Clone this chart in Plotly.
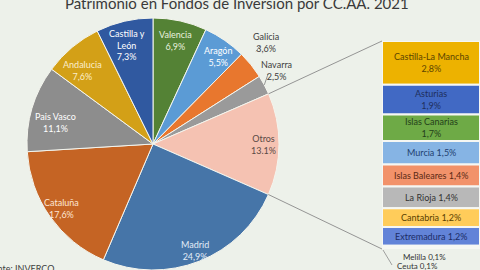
import math
import plotly.graph_objects as go

# ---------------- data ----------------
pie_labels = ["Valencia", "Aragón", "Galicia", "Navarra", "Otros", "Madrid",
              "Cataluña", "País Vasco", "Andalucía", "Castilla y León"]
pie_values = [6.9, 5.5, 3.6, 2.5, 13.1, 24.9, 17.6, 11.1, 7.6, 7.3]
pie_text = ["Valencia<br>6,9%", "Aragón<br>5,5%", "Galicia<br>3,6%", "Navarra<br>2,5%",
            "Otros<br>13.1%", "Madrid<br>24,9%", "Cataluña<br>17,6%", "Pais Vasco<br>11,1%",
            "Andalucia<br>7,6%", "Castilla y<br>León<br>7,3%"]

bar_labels = ["Castilla-La Mancha", "Asturias", "Islas Canarias", "Murcia", "Islas Baleares",
              "La Rioja", "Cantabria", "Extremadura", "Melilla", "Ceuta"]
bar_values = [2.8, 1.9, 1.7, 1.5, 1.4, 1.4, 1.2, 1.2, 0.1, 0.1]
bar_text = ["Castilla-La Mancha<br>2,8%", "Asturias<br>1,9%", "Islas Canarias<br>1,7%",
            "Murcia 1,5%", "Islas Baleares 1,4%", "La Rioja 1,4%", "Cantabria 1,2%",
            "Extremadura 1,2%", "", ""]
small_text = ["Melilla 0,1%", "Ceuta 0,1%"]

title = "Patrimonio en Fondos de Inversión por CC.AA. 2021"
source = "Fuente: INVERCO"

# ---------------- style ----------------
W, H = 480, 270
FONT = "Lato"
BG = "#edf1ea"
CX, CY, R = 153, 144, 126          # pie centre / radius (px)
BX0, BY0, BY1 = 382, 41, 249        # bar left / top / bottom (px)

pie_colors = ["#548235", "#5b9bd5", "#e8772e", "#9a9a9a", "#f5c2b2",
              "#4675a8", "#c56424", "#8d8d8d", "#d3a017", "#3059a0"]
pie_text_colors = ["#e8f1de", "#ffffff", "#404040", "#404040", "#5a4a45",
                   "#e2ecf7", "#fde6d3", "#ffffff", "#fbeecb", "#ffffff"]
label_frac = [0.84, 0.87, 1.21, 1.14, 0.88, 0.91, 0.885, 0.79, 0.81, 0.81]
label_dtheta = [0, 2, -3, -3, 0, 0, 0, -4, -4, -1.5]

bar_colors = ["#edb200", "#4169c4", "#6eaa46", "#86b4e4", "#f2926a",
              "#b8b8b8", "#ffcc5a", "#6283d8", "#9dc3e6", "#e0a070"]
bar_text_colors = ["#5c4400", "#1f2f5c", "#24401a", "#1f3f70", "#5a2a15",
                   "#333333", "#5a4000", "#1c2c66", "#333333", "#333333"]


def px2paper(x, y):
    return x / W, 1 - y / H


def polar(theta_deg, frac):
    t = math.radians(theta_deg)
    return CX + frac * R * math.sin(t), CY - frac * R * math.cos(t)


fig = go.Figure()

fig.add_trace(go.Pie(
    labels=pie_labels, values=pie_values, sort=False, direction="clockwise",
    rotation=0, textinfo="none", hoverinfo="label+value",
    marker=dict(colors=pie_colors, line=dict(color="#f4f5ee", width=1)),
    domain=dict(x=[(CX - R) / W, (CX + R) / W], y=[(H - CY - R) / H, (H - CY + R) / H]),
    showlegend=False,
))

# stacked bar (breakdown of "Otros")
bases = []
acc = 0.0
for v in bar_values:
    bases.append(acc)
    acc += v
bar_total = acc

fig.add_trace(go.Bar(
    x=[0] * len(bar_values), y=bar_values, base=bases, width=1,
    textposition="none",
    marker=dict(color=bar_colors, line=dict(color="#f6f7f3", width=2)),
    hovertext=bar_labels, hoverinfo="text+y",
    xaxis="x2", yaxis="y2", showlegend=False,
))

annotations = []
shapes = []

# bar segment labels (centred on each segment, in bar-axis coordinates)
for i, (t, b, v) in enumerate(zip(bar_text, bases, bar_values)):
    if not t:
        continue
    annotations.append(dict(x=0, y=b + v / 2, xref="x2", yref="y2", text=t, showarrow=False,
                            font=dict(family=FONT, size=9, color=bar_text_colors[i]),
                            xanchor="center", yanchor="middle"))

# pie labels
total = sum(pie_values)
cum = 0.0
mids = []
for i, v in enumerate(pie_values):
    mid = 360 * (cum + v / 2) / total
    mids.append(mid)
    cum += v
    x, y = polar(mid + label_dtheta[i], label_frac[i])
    px, py = px2paper(x, y)
    annotations.append(dict(x=px, y=py, xref="paper", yref="paper", text=pie_text[i],
                            showarrow=False, font=dict(family=FONT, size=9, color=pie_text_colors[i]),
                            xanchor="center", yanchor="middle"))

# leader lines for Galicia / Navarra
for i, (f0, f1, d0, d1) in [(2, (1.10, 1.15, -3, -3.6)), (3, (1.0, 1.07, 0, -3.4))]:
    x0, y0 = px2paper(*polar(mids[i] + d0, f0))
    x1, y1 = px2paper(*polar(mids[i] + d1, f1))
    shapes.append(dict(type="line", xref="paper", yref="paper", x0=x0, y0=y0, x1=x1, y1=y1,
                       line=dict(color="#7f7f7f", width=0.8)))

# connector lines pie -> bar
i_otros = pie_labels.index("Otros")
start = 360 * sum(pie_values[:i_otros]) / total
end = 360 * sum(pie_values[:i_otros + 1]) / total
for ang, by in [(start, BY0), (end, BY1)]:
    x0, y0 = px2paper(*polar(ang, 1.0))
    x1, y1 = px2paper(BX0, by)
    shapes.append(dict(type="line", xref="paper", yref="paper", x0=x0, y0=y0, x1=x1, y1=y1,
                       line=dict(color="#8a8a8a", width=0.9)))

# small-value labels below bar
for txt, (lx, ly) in zip(small_text, [(424, 256.5), (417, 265.5)]):
    px, py = px2paper(lx, ly)
    annotations.append(dict(x=px, y=py, xref="paper", yref="paper", text=txt, showarrow=False,
                            font=dict(family=FONT, size=8, color="#333333"),
                            xanchor="center", yanchor="middle"))
# Ceuta leader
xa, ya = px2paper(BX0 + 1, BY1 + 1)
xb, yb = px2paper(392, 265)
shapes.append(dict(type="line", xref="paper", yref="paper", x0=xa, y0=ya, x1=xb, y1=yb,
                   line=dict(color="#8a8a8a", width=0.8)))

# title & source
tx, ty = px2paper(237, 3)
annotations.append(dict(x=tx, y=ty, xref="paper", yref="paper", text=title, showarrow=False,
                        font=dict(family=FONT, size=15, color="#3a3a3a"),
                        xanchor="center", yanchor="middle"))
sx, sy = px2paper(56, 268)
annotations.append(dict(x=sx, y=sy, xref="paper", yref="paper", text=source, showarrow=False,
                        font=dict(family=FONT, size=9, color="#404040"),
                        xanchor="right", yanchor="middle"))

fig.update_layout(
    width=W, height=H, margin=dict(l=0, r=0, t=0, b=0),
    paper_bgcolor=BG, plot_bgcolor="rgba(0,0,0,0)",
    font=dict(family=FONT),
    xaxis2=dict(domain=[BX0 / W, 1], range=[-0.5, 0.5], visible=False, fixedrange=True),
    yaxis2=dict(domain=[(H - BY1) / H, (H - BY0) / H], range=[bar_total, 0], visible=False,
                anchor="x2", fixedrange=True),
    xaxis=dict(visible=False), yaxis=dict(visible=False),
    annotations=annotations, shapes=shapes,
)

fig.write_html("out.html")
